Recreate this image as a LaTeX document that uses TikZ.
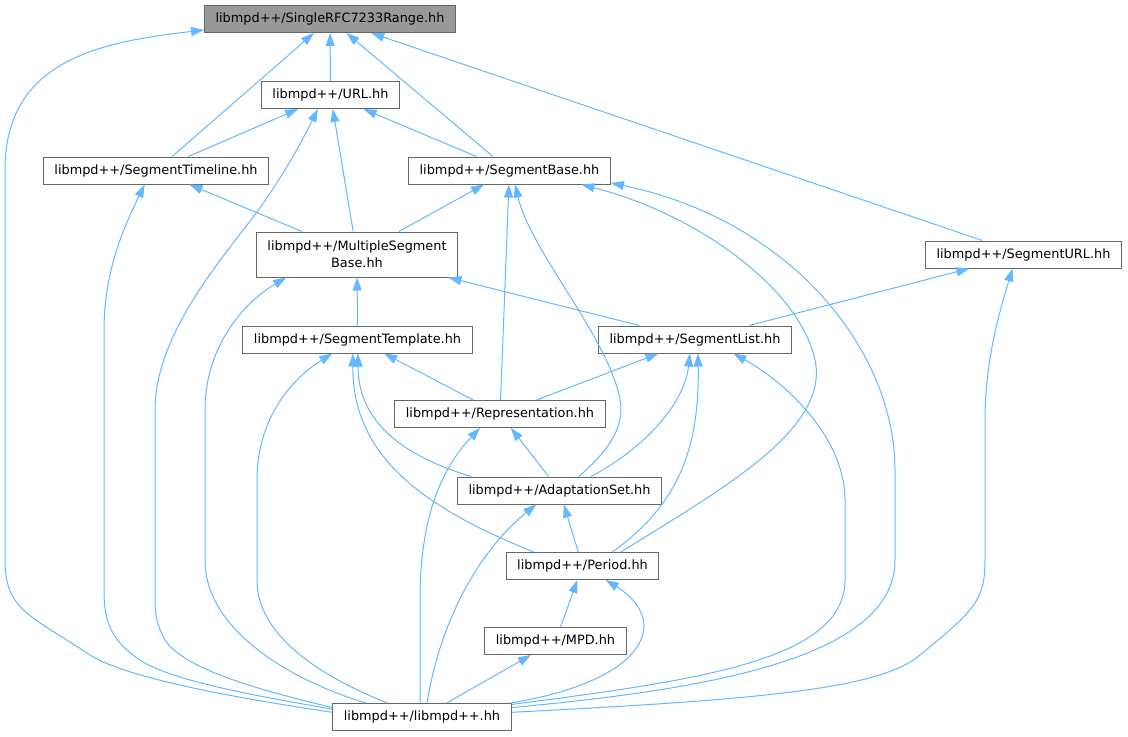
\documentclass[tikz,border=0pt]{standalone}
\usepackage{fontspec}
\setmainfont{DejaVu Sans}
\usepackage{tikz}
\usetikzlibrary{arrows.meta}
\definecolor{edgeblue}{HTML}{63B8FF}
\definecolor{boxline}{HTML}{666666}
\definecolor{rootfill}{HTML}{999999}
\tikzset{
  incbox/.style={draw=boxline, fill=white, line width=0.75pt, font=\fontsize{9.65pt}{12.75pt}\selectfont,
    inner xsep=8.25pt, inner ysep=0pt, minimum height=20.25pt, align=center},
  root/.style={incbox, fill=rootfill},
  dep/.style={draw=edgeblue, line width=0.75pt, -{Triangle[length=9.75pt,width=6.75pt]}}
}
\begin{document}
\begin{tikzpicture}[x=0.75pt,y=-0.75pt]
\useasboundingbox (0,0) rectangle (1128,736);
\node[root] (rfc) at (330,19) {libmpd++/SingleRFC7233Range.hh};
\node[incbox] (url) at (330.5,95) {libmpd++/URL.hh};
\node[incbox] (timeline) at (156,170.5) {libmpd++/SegmentTimeline.hh};
\node[incbox] (segbase) at (509.5,170.5) {libmpd++/SegmentBase.hh};
\node[incbox, minimum height=33.75pt] (multi) at (357,254.5) {libmpd++/MultipleSegment\\Base.hh};
\node[incbox] (segurl) at (1023.5,254.5) {libmpd++/SegmentURL.hh};
\node[incbox] (template) at (357.5,339.5) {libmpd++/SegmentTemplate.hh};
\node[incbox] (seglist) at (695,339.5) {libmpd++/SegmentList.hh};
\node[incbox] (repr) at (500,414) {libmpd++/Representation.hh};
\node[incbox] (adapt) at (559.5,490.5) {libmpd++/AdaptationSet.hh};
\node[incbox] (period) at (582.5,566) {libmpd++/Period.hh};
\node[incbox] (mpd) at (555.5,641) {libmpd++/MPD.hh};
\node[incbox] (lib) at (422,717) {libmpd++/libmpd++.hh};

\draw[dep] (timeline) -- (rfc);
\draw[dep] (url) -- (rfc);
\draw[dep] (segbase) -- (rfc);
\draw[dep] (segurl) -- (rfc);
\draw[dep] (timeline) -- (url);
\draw[dep] (segbase) -- (url);
\draw[dep] (multi) -- (url);
\draw[dep] (multi) -- (timeline);
\draw[dep] (multi) -- (segbase);
\draw[dep] (repr) -- (segbase);
\draw[dep] (template) -- (multi);
\draw[dep] (seglist) -- (multi);
\draw[dep] (seglist) -- (segurl);
\draw[dep] (repr) -- (template);
\draw[dep] (repr) -- (seglist);
\draw[dep] (adapt) -- (repr);
\draw[dep] (period) -- (adapt);
\draw[dep] (mpd) -- (period);
\draw[dep] (lib) -- (mpd);

\draw[dep] (lib.177) .. controls (250,700) and (130,680) .. (90,655) .. controls (30,615) and (5,610) .. (5,560) -- (5,170) .. controls (5,60) and (100,42) .. (rfc.185);
\draw[dep] (lib.175.5) .. controls (250,695) and (170,680) .. (140,660) .. controls (110,640) and (104,620) .. (104,590) -- (104,330) .. controls (104,270) and (125,225) .. (timeline.231);
\draw[dep] (lib.174) .. controls (260,690) and (185,670) .. (165,640) .. controls (157,625) and (155,615) .. (155,600) -- (155,410) .. controls (155,330) and (230,250) .. (262,205) .. controls (290,165) and (305,135) .. (url.228);
\draw[dep] (lib.166) .. controls (290,680) and (205,630) .. (205,560) -- (205,410) .. controls (205,350) and (240,305) .. (multi.198.6);
\draw[dep] (lib.158) .. controls (330,680) and (257,640) .. (257,580) -- (257,480) .. controls (257,420) and (290,380) .. (template.209.7);
\draw[dep] (lib.98) -- (420,600) .. controls (420,520) and (440,470) .. (repr.215);
\draw[dep] (lib.70) .. controls (440,620) and (480,550) .. (adapt.211);
\draw[dep] (lib.9.4) .. controls (650,680) and (670,620) .. (period.329);
\draw[dep] (lib.8) .. controls (700,680) and (845,660) .. (845,580) -- (845,500) .. controls (845,440) and (790,385) .. (seglist.340.7);
\draw[dep] (lib.6.3) .. controls (700,690) and (895,660) .. (895,560) -- (895,470) .. controls (895,350) and (790,220) .. (segbase.353);
\draw[dep] (lib.3) .. controls (750,700) and (880,690) .. (920,655) .. controls (975,610) and (985,600) .. (985,560) -- (985,420) .. controls (985,360) and (1000,310) .. (segurl.232);
\draw[dep] (adapt.36) .. controls (610,450) and (625,425) .. (620,400) .. controls (610,340) and (530,250) .. (segbase.292);
\draw[dep] (adapt.24) .. controls (650,445) and (685,400) .. (seglist.250);
\draw[dep] (period.25) .. controls (670,510) and (700,460) .. (seglist.282);
\draw[dep] (period.20.5) .. controls (720,490) and (830,430) .. (815,360) .. controls (800,290) and (700,215) .. (segbase.349.5);
\draw[dep] (adapt.171.4) .. controls (400,455) and (358,420) .. (template.272);
\draw[dep] (period.164) .. controls (430,510) and (352,460) .. (template.252);
\end{tikzpicture}
\end{document}
